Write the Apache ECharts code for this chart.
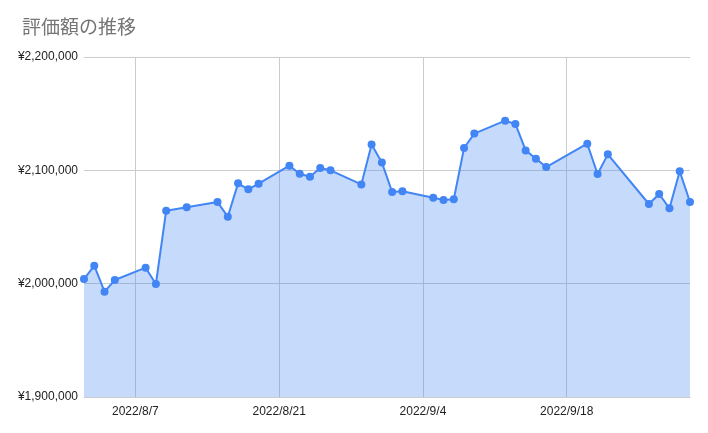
<!DOCTYPE html>
<html><head><meta charset="utf-8">
<script src="https://cdn.jsdelivr.net/npm/echarts@6/dist/echarts.min.js"></script>
<style>html,body{margin:0;padding:0;background:#fff}#c{width:708px;height:433px}</style>
</head><body><div id="c"></div>
<script>
const dates = ['2022-08-02','2022-08-03','2022-08-04','2022-08-05','2022-08-08','2022-08-09','2022-08-10','2022-08-12','2022-08-15','2022-08-16','2022-08-17','2022-08-18','2022-08-19','2022-08-22','2022-08-23','2022-08-24','2022-08-25','2022-08-26','2022-08-29','2022-08-30','2022-08-31','2022-09-01','2022-09-02','2022-09-05','2022-09-06','2022-09-07','2022-09-08','2022-09-09','2022-09-12','2022-09-13','2022-09-14','2022-09-15','2022-09-16','2022-09-20','2022-09-21','2022-09-22','2022-09-26','2022-09-27','2022-09-28','2022-09-29','2022-09-30'];
const values = [2004100,2015900,1992900,2003200,2014100,1999700,2064400,2067400,2072000,2059100,2088500,2083200,2088200,2104100,2097000,2094400,2102000,2100000,2087600,2122900,2107000,2080900,2081500,2075900,2073800,2074400,2119700,2132400,2143800,2140900,2117600,2110300,2102900,2123500,2096800,2114100,2070300,2079100,2066500,2099100,2072100];
const xTickDates = ['2022-08-07','2022-08-21','2022-09-04','2022-09-18'];
const xRange = ['2022-08-02','2022-09-30'];
const yTicks = [1900000,2000000,2100000,2200000];
const title = '評価額の推移';

function ts(s){const p=s.split('-').map(Number);return Date.UTC(p[0],p[1]-1,p[2]);}
const chart = echarts.init(document.getElementById('c'));
chart.setOption({
  animation:false,
  title:{text:title,left:17,top:12,textStyle:{fontFamily:'Noto Sans CJK JP',fontSize:19,fontWeight:'normal',color:'#757575'}},
  grid:{left:84,right:18,top:57,bottom:36,containLabel:false},
  xAxis:{type:'value',min:ts(xRange[0]),max:ts(xRange[1]),
    axisLine:{show:true,lineStyle:{color:'#ccc'}},
    axisTick:{show:false,customValues:xTickDates.map(ts)},
    splitLine:{show:true,lineStyle:{color:'#ccc',width:1}},
    axisLabel:{customValues:xTickDates.map(ts),margin:9,color:'#222',fontSize:12,fontFamily:'Liberation Sans, Arial',
      formatter:function(v){const d=new Date(v);return d.getUTCFullYear()+'/'+(d.getUTCMonth()+1)+'/'+d.getUTCDate();}}
  },
  yAxis:{type:'value',min:yTicks[0],max:yTicks[yTicks.length-1],interval:yTicks[1]-yTicks[0],
    axisLine:{show:false},axisTick:{show:false},
    splitLine:{lineStyle:{color:'#ccc',width:1}},
    axisLabel:{margin:6,color:'#222',fontSize:12,fontFamily:'Liberation Sans, Arial',
      formatter:function(v){return '¥'+v.toLocaleString('en-US');}}
  },
  series:[{type:'line',data:dates.map((d,i)=>[ts(d),values[i]]),
    symbol:'circle',symbolSize:8,showAllSymbol:true,
    itemStyle:{color:'#4285F4'},lineStyle:{color:'#4285F4',width:2},
    areaStyle:{color:'#4285F4',opacity:0.3}}]
});
</script></body></html>
